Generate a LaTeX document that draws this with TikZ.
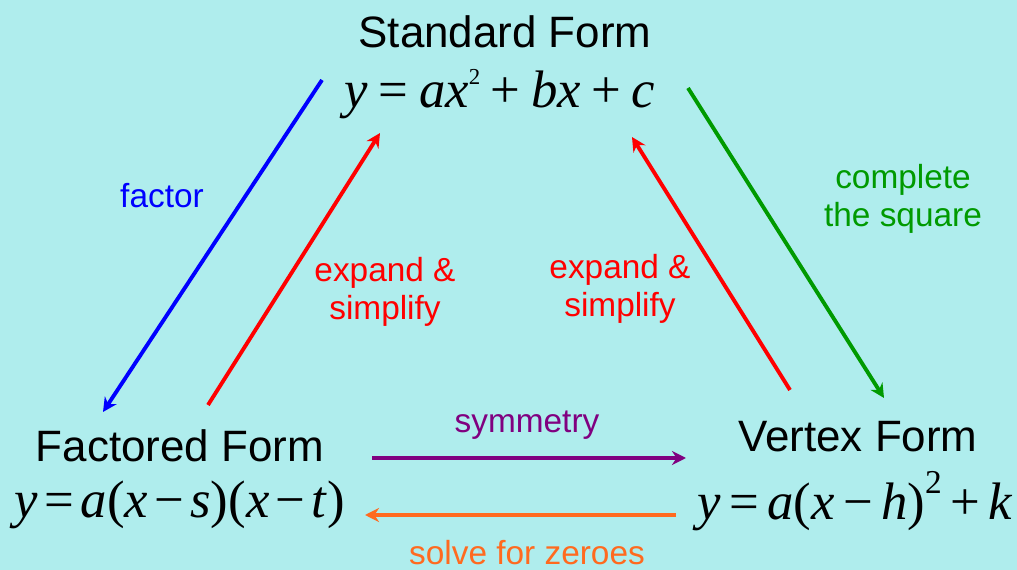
\documentclass[tikz,border=0pt]{standalone}
\usepackage{fontspec}
\setmainfont{Liberation Sans}
\newfontfamily\eqfont{Liberation Serif}
\usetikzlibrary{arrows.meta}
\definecolor{bgcyan}{HTML}{AFEDED}
\definecolor{fgreen}{HTML}{009A00}
\definecolor{fpurple}{HTML}{800080}
\definecolor{forange}{HTML}{FF6A1F}
\newcommand{\vv}[1]{\textit{#1}}
\newcommand{\op}[2][0.16em]{\hspace{#1}#2\hspace{#1}}
\begin{document}
\begin{tikzpicture}[
    title/.style={anchor=base, font=\fontsize{25}{30}\selectfont},
    eqn/.style={anchor=base, font=\eqfont\fontsize{30}{35}\selectfont},
    lbl/.style={align=center, font=\fontsize{19}{22}\selectfont},
    conv/.style={line width=2.2pt, -{Stealth[length=8pt, width=8pt]}}]
    \useasboundingbox[fill=bgcyan] (0,0) rectangle (20.34,11.4);
    % the three forms
    \node[title] (stdname) at (10.1,10.44) {Standard Form};
    \node[eqn] (stdeq) at (10.0,9.24) {\vv{y}\op[0.2em]{=}\vv{ax}\raisebox{0.45em}{\fontsize{13}{13}\selectfont 2}\op[0.2em]{+}\vv{bx}\op[0.2em]{+}\vv{c}};
    \node[title] (facname) at (3.6,2.16) {Factored Form};
    \node[eqn] (faceq) at (3.6,1.04) {\vv{y}\op[0.12em]{=}\vv{a}(\vv{x}\op[0.12em]{−}\vv{s})(\vv{x}\op[0.12em]{−}\vv{t})};
    \node[title] (vtxname) at (17.16,2.36) {Vertex Form};
    \node[eqn] (vtxeq) at (17.1,1.0) {\vv{y}\op{=}\vv{a}(\vv{x}\op{−}\vv{h})\raisebox{0.5em}{\fontsize{19}{19}\selectfont 2}\op{+}\vv{k}};
    % arrow ends
    \coordinate (f1) at (6.44,9.8);   \coordinate (f2) at (2.06,3.16);
    \coordinate (e1) at (4.16,3.3);   \coordinate (e2) at (7.6,8.74);
    \coordinate (e3) at (15.8,3.6);   \coordinate (e4) at (12.64,8.66);
    \coordinate (c1) at (13.76,9.64); \coordinate (c2) at (17.68,3.44);
    \coordinate (s1) at (7.44,2.24);  \coordinate (s2) at (13.72,2.24);
    \coordinate (z1) at (13.52,1.1);  \coordinate (z2) at (7.3,1.1);
    \draw[conv, blue] (f1) -- (f2);
    \draw[conv, red] (e1) -- (e2);
    \draw[conv, red] (e3) -- (e4);
    \draw[conv, fgreen] (c1) -- (c2);
    \draw[conv, fpurple] (s1) -- (s2);
    \draw[conv, forange] (z1) -- (z2);
    % labels
    \node[lbl, blue] (factor) at (3.24,7.48) {factor};
    \node[lbl, red] (expleft) at (7.7,5.56) {expand \&\\simplify};
    \node[lbl, red] (expright) at (12.4,5.62) {expand \&\\simplify};
    \node[lbl, fgreen] (complete) at (18.06,7.42) {complete\\the square};
    \node[lbl, fpurple] (symm) at (10.54,2.9) {symmetry};
    \node[lbl, forange] (zeroes) at (10.54,0.34) {solve for zeroes};
\end{tikzpicture}
\end{document}
